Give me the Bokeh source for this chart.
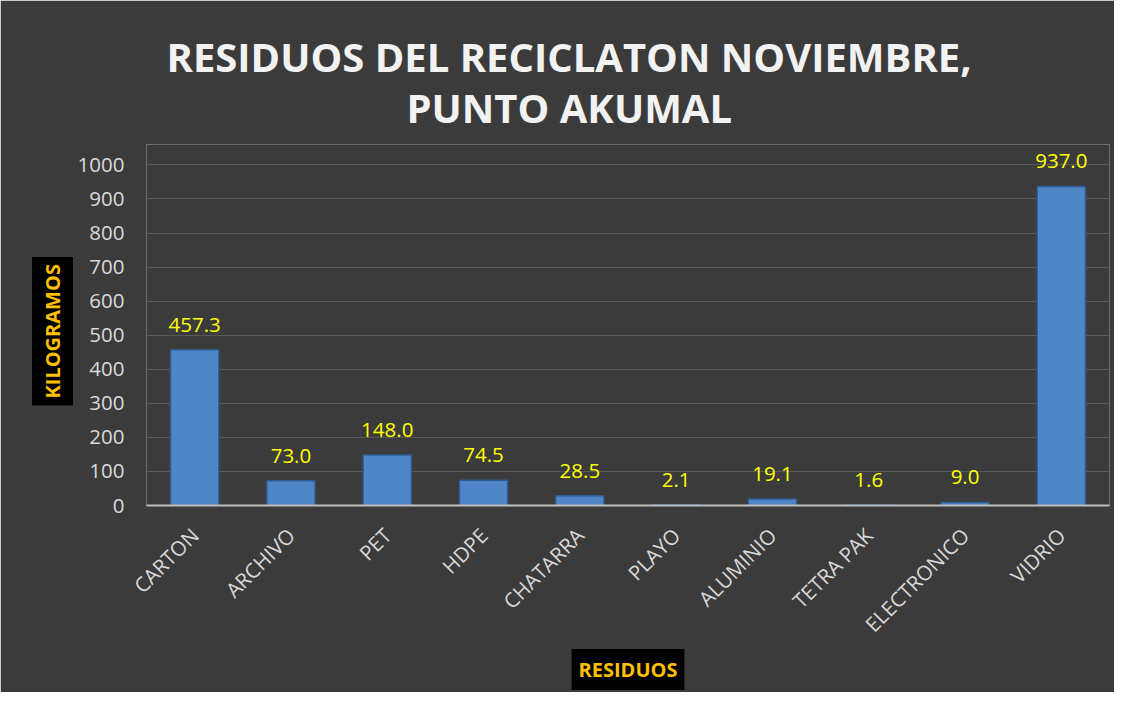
import math
from bokeh.plotting import figure
from bokeh.models import Range1d, ColumnDataSource, FixedTicker, LabelSet, Title
from bokeh.embed import file_html
from bokeh.resources import INLINE
from bokeh.core.properties import value

# ---- data ----
categories = ["CARTON", "ARCHIVO", "PET", "HDPE", "CHATARRA", "PLAYO",
              "ALUMINIO", "TETRA PAK", "ELECTRONICO", "VIDRIO"]
kilos = [457.3, 73.0, 148.0, 74.5, 28.5, 2.1, 19.1, 1.6, 9.0, 937.0]
y_ticks = [0, 100, 200, 300, 400, 500, 600, 700, 800, 900, 1000]
title_lines = ["RESIDUOS DEL RECICLATON NOVIEMBRE,", "PUNTO AKUMAL"]
x_title = "RESIDUOS"
y_title = "KILOGRAMOS"

FONT = "Open Sans"

src = ColumnDataSource(dict(cat=categories, kg=kilos,
                            lbl=[f"{v:.1f}" for v in kilos]))

p = figure(x_range=categories, y_range=Range1d(0, 1060),
           width=1114, height=692, output_backend="svg",
           toolbar_location=None,
           min_border_left=146, min_border_right=5,
           min_border_top=144, min_border_bottom=187)

p.background_fill_color = "#3b3b3b"
p.border_fill_color = "#3b3b3b"
p.outline_line_color = None

# grid
p.xgrid.grid_line_color = None
p.ygrid.grid_line_color = "#595959"
p.ygrid.grid_line_width = 1.2
p.ygrid.ticker = FixedTicker(ticks=y_ticks)

# y axis
p.yaxis.ticker = FixedTicker(ticks=y_ticks)
p.yaxis.axis_line_color = None
p.yaxis.major_tick_line_color = None
p.yaxis.minor_tick_line_color = None
p.yaxis.major_label_standoff = 16
p.yaxis.major_label_text_color = "#d9d9d9"
p.yaxis.major_label_text_font = FONT
p.yaxis.major_label_text_font_size = "20.5px"

# x axis
p.xaxis.axis_line_color = "#bfbfbf"
p.xaxis.axis_line_width = 2
p.xaxis.major_tick_line_color = None
p.xaxis.minor_tick_line_color = None
p.xaxis.major_label_orientation = math.pi / 4
p.xaxis.major_label_standoff = 20
p.xaxis.major_label_text_color = "#d9d9d9"
p.xaxis.major_label_text_font = FONT
p.xaxis.major_label_text_font_size = "20.5px"

# bars
p.vbar(x="cat", top="kg", width=0.5, source=src,
       fill_color="#4f86c8", line_color="#2f5c92", line_width=1.5)

# data labels
labels = LabelSet(x="cat", y="kg", text="lbl", source=src,
                  text_align="center", text_baseline="bottom", y_offset=18,
                  text_color="#ffff00", text_font=value(FONT),
                  text_font_size="20.5px")
p.add_layout(labels)

# main title: two lines (closest to the frame first)
p.add_layout(Title(text=title_lines[1], align="left", offset=260,
                   standoff=20, text_color="#f2f2f2", text_font=FONT,
                   text_font_style="bold", text_font_size="40px"), "above")
p.add_layout(Title(text=title_lines[0], align="left", offset=20,
                   standoff=-32, text_color="#f2f2f2", text_font=FONT,
                   text_font_style="bold", text_font_size="40px"), "above")

# axis titles in black boxes
p.add_layout(Title(text=y_title, align="left", offset=100, standoff=3,
                   text_color="#ffc000", text_font=FONT,
                   text_font_style="bold", text_font_size="20px",
                   background_fill_color="black", padding=7), "left")
p.add_layout(Title(text=x_title, align="center", standoff=-7,
                   text_color="#ffc000", text_font=FONT,
                   text_font_style="bold", text_font_size="20px",
                   background_fill_color="black", padding=7), "below")

open("out.html", "w").write(file_html(p, INLINE))
